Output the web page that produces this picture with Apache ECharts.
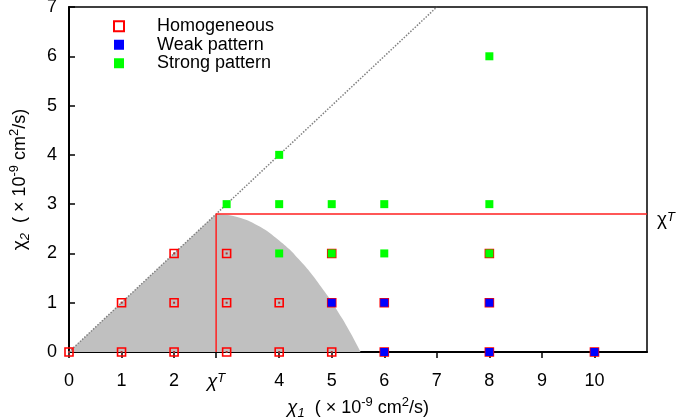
<!DOCTYPE html>
<html>
<head>
<meta charset="utf-8">
<script src="https://cdn.jsdelivr.net/npm/echarts@6/dist/echarts.min.js"></script>
<style>
  html, body { margin: 0; padding: 0; background: #fff; }
  #chart { width: 680px; height: 420px; }
</style>
</head>
<body>
<div id="chart"></div>
<script>
    // Valores
    const chiT = 2.8;
    const xTicks = [0, 1, 2, chiT, 4, 5, 6, 7, 8, 9, 10];

    const homogeneous = [[0,0],[1,0],[2,0],[3,0],[4,0],[5,0],[1,1],[2,1],[3,1],[4,1],[2,2],[3,2],
                         [5,1],[5,2],[6,0],[6,1],[8,0],[8,1],[8,2],[10,0]];
    const weakPattern = [[5,1],[6,0],[6,1],[8,0],[8,1],[10,0]];
    const strongPattern = [[3,3],[4,3],[5,3],[6,3],[8,3],[4,4],[8,6],[4,2],[5,2],[6,2],[8,2]];

    // Region sombreada (borde superior)
    const shadeLeft = [[0,0],[chiT,chiT]];
    const shadeRight = [[chiT,chiT],[3.2,2.74],[3.6,2.56],[4.0,2.26],[4.4,1.85],[4.8,1.32],[5.2,0.68],[5.55,0]];
    const diagonal = [[0,0],[7,7]];
    const threshold = [[chiT,0],[chiT,chiT],[11,chiT]];

    const font = 'Liberation Sans, Arial, sans-serif';
    const rich = {
        n: { fontSize: 18, fontFamily: font, color: '#000' },
        c: { fontSize: 19, fontFamily: font, color: '#000', fontStyle: 'italic' },
        cu: { fontSize: 19, fontFamily: font, color: '#000' },
        sub: { fontSize: 13, fontFamily: font, color: '#000', fontStyle: 'italic', verticalAlign: 'bottom' },
        sup: { fontSize: 13, fontFamily: font, color: '#000', verticalAlign: 'top' },
        supi: { fontSize: 13, fontFamily: font, color: '#000', fontStyle: 'italic', verticalAlign: 'top' }
    };

    const chart = echarts.init(document.getElementById('chart'));
    chart.setOption({
        backgroundColor: '#ffffff',
        animation: false,
        textStyle: { fontFamily: font },
        grid: {
            left: 69, right: 33, top: 7, bottom: 68, outerBoundsMode: 'none', containLabel: false,
            show: true, borderColor: '#000', borderWidth: 1.5
        },
        legend: {
            left: 108, top: 12, orient: 'vertical', itemGap: 0,
            itemWidth: 10, itemHeight: 10,
            data: ['Homogeneous', 'Weak pattern', 'Strong pattern'],
            textStyle: { fontSize: 18, color: '#000', lineHeight: 18.5, padding: [0, 0, 0, 28] }
        },
        xAxis: {
            type: 'value', min: 0, max: 11, interval: 1,
            name: '{c|χ}{sub|1}{n|  ( × 10}{sup|-9}{n| cm}{sup|2}{n|/s)}',
            nameLocation: 'middle', nameGap: 44,
            nameTextStyle: { rich: rich, lineHeight: 24 },
            axisLine: { lineStyle: { color: '#000', width: 2 } },
            axisTick: { customValues: xTicks, length: 6, lineStyle: { color: '#000', width: 1.5 } },
            axisLabel: {
                customValues: xTicks, fontSize: 18, color: '#000', margin: 20,
                formatter: v => v === chiT ? '{c|χ}{supi|T}' : String(v),
                rich: rich
            },
            splitLine: { show: false }
        },
        yAxis: {
            type: 'value', min: 0, max: 7, interval: 1,
            name: '{cu|χ}{sub|2}{n|  ( × 10}{sup|-9}{n| cm}{sup|2}{n|/s)}',
            nameLocation: 'middle', nameGap: 37,
            nameTextStyle: { rich: rich, lineHeight: 24 },
            axisLine: { lineStyle: { color: '#000', width: 2 } },
            axisTick: { inside: true, length: 6, lineStyle: { color: '#000', width: 1.5 } },
            axisLabel: { fontSize: 18, color: '#000', margin: 12 },
            splitLine: { show: false }
        },
        series: [
            {
                name: 'shadeLeft', type: 'line', data: shadeLeft, symbol: 'none', z: 1,
                lineStyle: { width: 0 }, areaStyle: { color: '#c0c0c0', opacity: 1 }, silent: true
            },
            {
                name: 'shadeRight', type: 'line', data: shadeRight, symbol: 'none', smooth: true, z: 1,
                lineStyle: { width: 0 }, areaStyle: { color: '#c0c0c0', opacity: 1 }, silent: true
            },
            {
                name: 'diagonal', type: 'line', data: diagonal, symbol: 'none', z: 2,
                lineStyle: { color: '#808080', width: 1.5, type: 'dotted' }, silent: true
            },
            {
                name: 'threshold', type: 'line', data: threshold, symbol: 'none', clip: false, z: 3,
                lineStyle: { color: '#ff2020', width: 1.5 },
                endLabel: { show: true, distance: 10, offset: [0, 6], formatter: '{cu|χ}{supi|T}', rich: rich }
            },
            {
                name: 'Homogeneous', type: 'scatter', data: homogeneous, symbol: 'rect', symbolSize: 8, z: 5,
                itemStyle: { color: 'rgba(255,255,255,0)', borderColor: '#ff0000', borderWidth: 1.6, opacity: 1 }
            },
            {
                name: 'homDot', type: 'scatter', data: homogeneous, symbol: 'rect', symbolSize: 2, z: 5,
                itemStyle: { color: '#b03030', opacity: 1 }, silent: true
            },
            {
                name: 'Weak pattern', type: 'scatter', data: weakPattern, symbol: 'rect', symbolSize: 8, z: 6,
                itemStyle: { color: '#0000ff', opacity: 1 }
            },
            {
                name: 'Strong pattern', type: 'scatter', data: strongPattern, symbol: 'rect', symbolSize: 8, z: 6,
                itemStyle: { color: '#00ff00', opacity: 1 }
            }
        ]
    });
</script>
</body>
</html>
